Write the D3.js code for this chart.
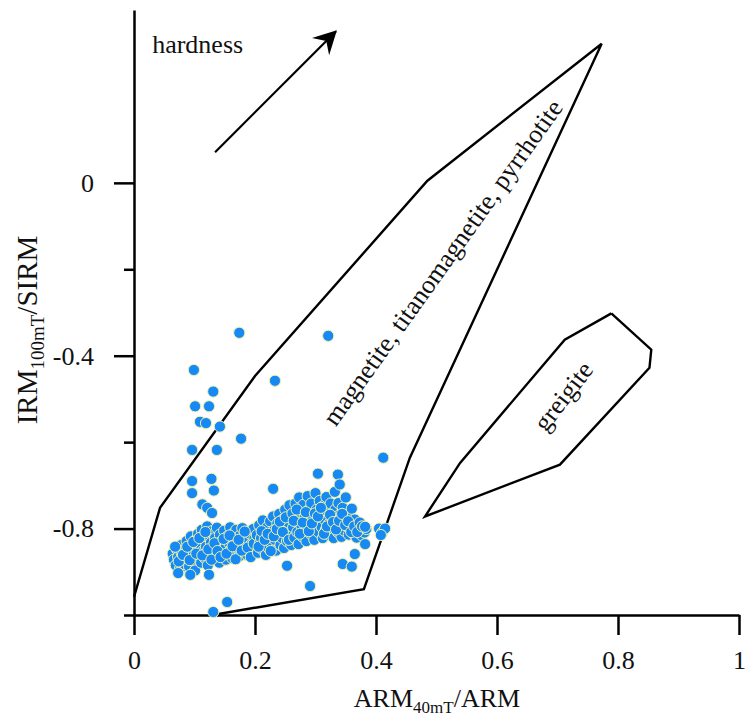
<!DOCTYPE html>
<html><head><meta charset="utf-8">
<script src="https://cdn.jsdelivr.net/npm/d3@7"></script>
<style>
body{margin:0;background:#fff}
svg{display:block;background:#fff}
text{font-family:"Liberation Serif","Times New Roman",serif;fill:#111}
</style>
</head><body>
<svg id="chart" width="745" height="722"></svg>
<script>
// ---------- data ----------
const xTicks = [0, 0.2, 0.4, 0.6, 0.8, 1];
const xTickLabels = ["0", "0.2", "0.4", "0.6", "0.8", "1"];
const yMajorTicks = [0, -0.4, -0.8];
const yTickLabels = ["0", "-0.4", "-0.8"];
const yMinorTicks = [-0.2, -0.6, -1.0];

const magnetitePolygon = [
  [0, -0.958], [0.043, -0.752], [0.2, -0.447], [0.485, 0.005], [0.773, 0.322],
  [0.456, -0.636], [0.415, -0.80], [0.38, -0.94], [0.13, -1.0]
];
const greigitePolygon = [
  [0.789, -0.302], [0.855, -0.386], [0.852, -0.428], [0.704, -0.652],
  [0.481, -0.772], [0.539, -0.648], [0.712, -0.363], [0.789, -0.302]
];
const hardnessArrow = [[0.134, 0.071], [0.334, 0.351]];

const outlierPoints = [
  [0.174,-0.347],[0.321,-0.354],[0.099,-0.433],[0.131,-0.483],[0.101,-0.517],[0.124,-0.517],
  [0.109,-0.553],[0.119,-0.556],[0.142,-0.564],[0.177,-0.592],[0.233,-0.458],[0.096,-0.618],
  [0.137,-0.618],[0.096,-0.690],[0.128,-0.685],[0.096,-0.718],[0.132,-0.712],[0.230,-0.708],
  [0.304,-0.673],[0.113,-0.744],[0.121,-0.752],[0.129,-0.764],[0.154,-0.970],[0.131,-0.993],
  [0.073,-0.903],[0.093,-0.907],[0.124,-0.907],[0.412,-0.636],[0.337,-0.675],[0.340,-0.698],
  [0.365,-0.859],[0.345,-0.882],[0.360,-0.888],[0.253,-0.886],[0.291,-0.933],[0.382,-0.836],
  [0.405,-0.800],[0.410,-0.810],[0.415,-0.800],[0.408,-0.815]
];

const clusterLeft = [
  [0.064,-0.858],[0.066,-0.872],[0.069,-0.885],[0.071,-0.848],[0.073,-0.866],[0.076,-0.893],[0.078,-0.838],
  [0.079,-0.857],[0.082,-0.874],[0.083,-0.882],[0.086,-0.846],[0.087,-0.829],[0.089,-0.862],[0.091,-0.888],
  [0.093,-0.851],[0.094,-0.818],[0.096,-0.839],[0.097,-0.874],[0.099,-0.861],[0.101,-0.897],[0.102,-0.826],
  [0.104,-0.848],[0.106,-0.812],[0.107,-0.866],[0.109,-0.836],[0.111,-0.879],[0.112,-0.803],[0.114,-0.852],
  [0.116,-0.824],[0.117,-0.868],[0.119,-0.842],[0.121,-0.795],[0.122,-0.885],[0.124,-0.817],[0.126,-0.858],
  [0.127,-0.833],[0.129,-0.806],[0.131,-0.871],[0.132,-0.846],[0.134,-0.822],[0.136,-0.862],[0.137,-0.798],
  [0.139,-0.838],[0.141,-0.879],[0.142,-0.814],[0.144,-0.851],[0.146,-0.828],[0.147,-0.866],[0.149,-0.805],
  [0.151,-0.843],[0.152,-0.872],[0.154,-0.819],[0.156,-0.857],[0.157,-0.833],[0.159,-0.797],[0.161,-0.848],
  [0.162,-0.868],[0.164,-0.812],[0.166,-0.836],[0.167,-0.856],[0.169,-0.803],[0.171,-0.826],[0.172,-0.847],
  [0.174,-0.864],[0.176,-0.815],[0.177,-0.838],[0.179,-0.799],[0.181,-0.853],[0.182,-0.821],[0.184,-0.842],
  [0.186,-0.808],[0.187,-0.861],[0.189,-0.829],[0.191,-0.847],[0.192,-0.812],[0.194,-0.836],[0.196,-0.855],
  [0.197,-0.801],[0.199,-0.824],[0.201,-0.846],
  [0.068,-0.842],[0.074,-0.876],[0.081,-0.861],[0.088,-0.842],[0.092,-0.873],[0.098,-0.831],[0.103,-0.858],
  [0.108,-0.822],[0.113,-0.862],[0.118,-0.808],[0.123,-0.848],[0.128,-0.872],[0.133,-0.834],[0.138,-0.852],
  [0.143,-0.866],[0.148,-0.824],[0.153,-0.858],[0.158,-0.816],[0.163,-0.841],[0.168,-0.871],[0.173,-0.826],
  [0.178,-0.851],[0.183,-0.807],[0.188,-0.844],[0.193,-0.866],[0.198,-0.835]
];
const clusterMiddle = [
  [0.203,-0.815],[0.205,-0.856],[0.207,-0.792],[0.208,-0.834],[0.210,-0.822],[0.212,-0.848],[0.213,-0.781],
  [0.215,-0.808],[0.217,-0.838],[0.218,-0.861],[0.220,-0.797],[0.222,-0.825],[0.223,-0.846],[0.225,-0.783],
  [0.227,-0.812],[0.228,-0.836],[0.230,-0.772],[0.232,-0.803],[0.233,-0.826],[0.235,-0.851],[0.237,-0.788],
  [0.238,-0.815],[0.240,-0.766],[0.242,-0.838],[0.243,-0.798],[0.245,-0.822],[0.247,-0.778],[0.248,-0.845],
  [0.250,-0.756],[0.252,-0.806],[0.253,-0.829],[0.255,-0.786],[0.257,-0.746],[0.258,-0.814],[0.260,-0.838],
  [0.206,-0.842],[0.211,-0.806],[0.216,-0.826],[0.221,-0.812],[0.226,-0.852],[0.231,-0.818],[0.236,-0.801],
  [0.241,-0.784],[0.246,-0.808],[0.251,-0.774],[0.256,-0.826]
];
const clusterRight = [
  [0.262,-0.765],[0.263,-0.797],[0.265,-0.821],[0.267,-0.742],[0.268,-0.782],[0.270,-0.808],[0.272,-0.836],
  [0.273,-0.728],[0.275,-0.762],[0.277,-0.795],[0.278,-0.818],[0.280,-0.745],[0.282,-0.776],[0.283,-0.806],
  [0.285,-0.829],[0.287,-0.725],[0.288,-0.758],[0.290,-0.789],[0.292,-0.812],[0.293,-0.742],[0.295,-0.773],
  [0.297,-0.801],[0.298,-0.826],[0.300,-0.718],[0.302,-0.756],[0.303,-0.785],[0.305,-0.808],[0.307,-0.736],
  [0.308,-0.768],[0.310,-0.796],[0.312,-0.822],[0.313,-0.748],[0.315,-0.779],[0.317,-0.803],[0.318,-0.727],
  [0.320,-0.762],[0.322,-0.789],[0.323,-0.815],[0.325,-0.742],[0.327,-0.772],[0.328,-0.798],[0.330,-0.822],
  [0.332,-0.715],[0.333,-0.756],[0.335,-0.785],[0.337,-0.808],[0.338,-0.741],[0.340,-0.768],[0.342,-0.795],
  [0.343,-0.819],[0.345,-0.752],[0.347,-0.781],[0.348,-0.805],[0.350,-0.728],[0.352,-0.768],[0.353,-0.792],
  [0.355,-0.814],[0.357,-0.776],[0.358,-0.801],[0.360,-0.754],[0.362,-0.788],[0.363,-0.812],[0.365,-0.779],
  [0.367,-0.801],[0.368,-0.821],[0.370,-0.792],[0.372,-0.808],[0.374,-0.798],[0.376,-0.815],[0.378,-0.803],
  [0.381,-0.809],[0.384,-0.801],
  [0.264,-0.782],[0.269,-0.756],[0.274,-0.812],[0.279,-0.786],[0.284,-0.762],[0.289,-0.806],[0.294,-0.788],
  [0.299,-0.765],[0.304,-0.772],[0.309,-0.752],[0.314,-0.812],[0.319,-0.795],[0.324,-0.768],[0.329,-0.785],
  [0.334,-0.802],[0.339,-0.782],[0.344,-0.766],[0.349,-0.792],[0.354,-0.783],[0.359,-0.808],[0.364,-0.795],
  [0.369,-0.808],[0.373,-0.786],[0.377,-0.795],[0.382,-0.796]
];

// ---------- chart ----------
const svg = d3.select("#chart");
const FONT = 26;
const x = d3.scaleLinear().domain([0, 1]).range([134, 739]);
const y = d3.scaleLinear().domain([-1, 0.4]).range([615, 10]);

const lineGen = d3.line().x(d => x(d[0])).y(d => y(d[1]));

// region polygons
svg.append("path").datum(magnetitePolygon).attr("d", lineGen)
  .attr("fill", "none").attr("stroke", "#000").attr("stroke-width", 2.4).attr("stroke-linejoin", "miter");
svg.append("path").datum(greigitePolygon).attr("d", lineGen)
  .attr("fill", "none").attr("stroke", "#000").attr("stroke-width", 2.4).attr("stroke-linejoin", "miter");

// axes
const xAxis = d3.axisBottom(x).tickValues(xTicks).tickSize(20).tickSizeOuter(0).tickPadding(16)
  .tickFormat((d, i) => xTickLabels[i]);
const gx = svg.append("g").attr("transform", `translate(0,${y(-1)})`).call(xAxis);

const yAxis = d3.axisLeft(y).tickValues(yMajorTicks).tickSize(20).tickSizeOuter(0).tickPadding(20)
  .tickFormat((d, i) => yTickLabels[i]);
const gy = svg.append("g").attr("transform", `translate(${x(0)},0)`).call(yAxis);

const yMinor = d3.axisLeft(y).tickValues(yMinorTicks).tickSize(10).tickSizeOuter(0).tickFormat("");
const gym = svg.append("g").attr("transform", `translate(${x(0)},0)`).call(yMinor);
gym.select(".domain").remove();

[gx, gy, gym].forEach(g => {
  g.selectAll(".domain").attr("stroke", "#000").attr("stroke-width", 2.5);
  g.selectAll(".tick line").attr("stroke", "#000").attr("stroke-width", 2.5);
  g.selectAll(".tick text").attr("font-size", FONT)
    .attr("font-family", '"Liberation Serif","Times New Roman",serif').attr("fill", "#111");
});

// axis titles
const xt = svg.append("text").attr("x", 437).attr("y", 707).attr("text-anchor", "middle").attr("font-size", FONT);
xt.append("tspan").text("ARM");
xt.append("tspan").attr("font-size", 17).attr("dy", 6).text("40mT");
xt.append("tspan").attr("dy", -6).text("/ARM");

const yt = svg.append("text").attr("transform", "translate(37,330) rotate(-90)")
  .attr("text-anchor", "middle").attr("font-size", 29);
yt.append("tspan").text("IRM");
yt.append("tspan").attr("font-size", 19).attr("dy", 7).text("100mT");
yt.append("tspan").attr("dy", -7).text("/SIRM");

// hardness arrow
svg.append("defs").append("marker").attr("id", "arrowhead")
  .attr("markerUnits", "userSpaceOnUse").attr("markerWidth", 30).attr("markerHeight", 30)
  .attr("refX", 0).attr("refY", 0).attr("viewBox", "-22 -12 26 24").attr("orient", "auto")
  .append("path").attr("d", "M1,0 L-19,-10.5 L-12,0 L-19,10.5 Z").attr("fill", "#000");
svg.append("line")
  .attr("x1", x(hardnessArrow[0][0])).attr("y1", y(hardnessArrow[0][1]))
  .attr("x2", x(hardnessArrow[1][0])).attr("y2", y(hardnessArrow[1][1]))
  .attr("stroke", "#000").attr("stroke-width", 2.2).attr("marker-end", "url(#arrowhead)");

svg.append("text").attr("x", x(0.03)).attr("y", y(0.301)).attr("font-size", FONT).text("hardness");

// region labels
svg.append("text")
  .attr("transform", `translate(${x(0.522)},${y(-0.196)}) rotate(-54.5)`)
  .attr("text-anchor", "middle").attr("font-size", FONT)
  .text("magnetite, titanomagnetite, pyrrhotite");
svg.append("text")
  .attr("transform", `translate(${x(0.721)},${y(-0.506)}) rotate(-52.5)`)
  .attr("text-anchor", "middle").attr("font-size", FONT)
  .text("greigite");

// points
const allPoints = clusterLeft.concat(clusterMiddle, clusterRight, outlierPoints);
svg.append("g").selectAll("circle").data(allPoints).join("circle")
  .attr("cx", d => x(d[0])).attr("cy", d => y(d[1])).attr("r", 5.6)
  .attr("fill", "#1789F5").attr("stroke", "#EEF3A6").attr("stroke-width", 1);
</script>
</body></html>
